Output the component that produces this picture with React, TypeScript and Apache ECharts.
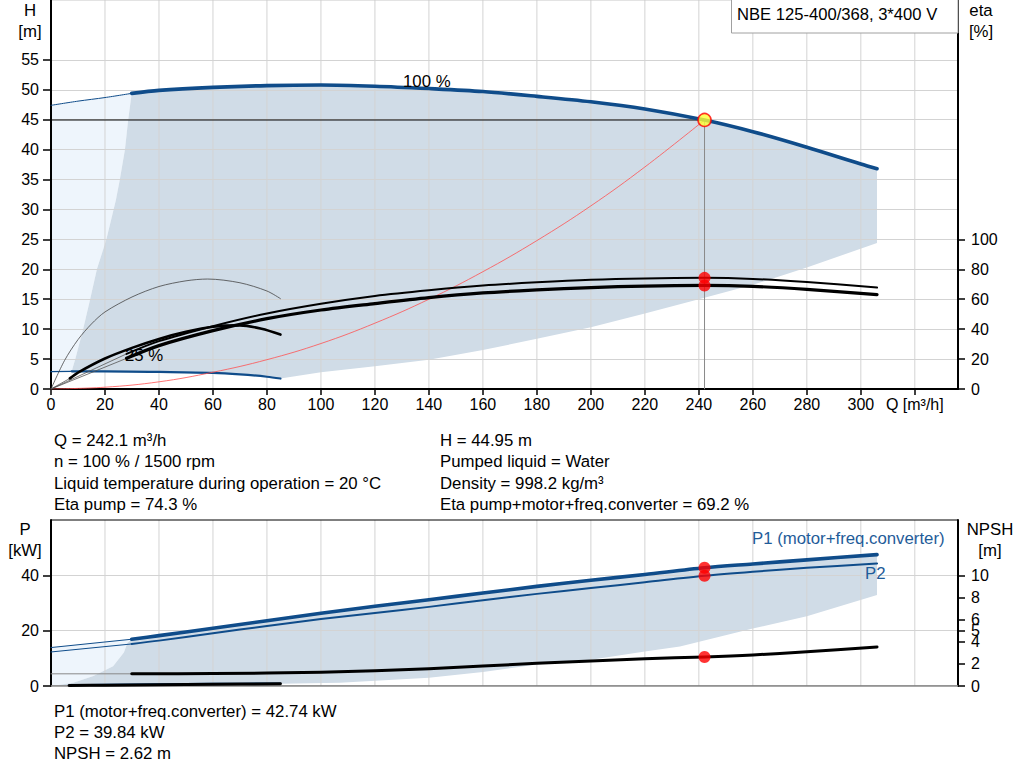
import React, { useEffect, useRef } from "react";
import * as echarts from "echarts";

// ---------- axis / tick data ----------
const Q_MAX = 336;
const Q_TICKS = [0, 20, 40, 60, 80, 100, 120, 140, 160, 180, 200, 220, 240, 260, 280, 300, 320];
const Q_UNIT_AT = 320;
const H_MAX = 65;
const H_TICKS = [0, 5, 10, 15, 20, 25, 30, 35, 40, 45, 50, 55];
const ETA_MAX = 260;
const ETA_TICKS = [0, 20, 40, 60, 80, 100];
const P_MAX = 60;
const P_TICKS = [0, 20, 40];
const NPSH_MAX = 15;
const NPSH_TICKS = [0, 2, 4, 5, 6, 8, 10];

// ---------- operating point ----------
const OP_Q = 242.1;
const OP_H = 44.95;
const OP_ETA_PUMP = 74.3;
const OP_ETA_TOTAL = 69.2;
const OP_P1 = 42.74;
const OP_P2 = 39.84;
const OP_NPSH = 2.62;

// thin -> thick switch points
const THICK_START = 29.9;
const THICK_START_25 = 7.7;

// ---------- H curves (m) ----------
const Q_H100 = [0, 10, 20, 29.9, 40, 60, 80, 100, 120, 140, 160, 180, 200, 220, 242.1, 260, 280, 300, 306];
const H100 = [47.4, 48.1, 48.7, 49.4, 49.9, 50.4, 50.7, 50.8, 50.6, 50.2, 49.7, 48.9, 48.0, 46.8, 44.95, 43.0, 40.4, 37.6, 36.8];
const Q_H25 = [0, 7.7, 20, 40, 60, 70, 80, 85];
const H25 = [2.9, 2.95, 2.95, 2.85, 2.7, 2.45, 2.05, 1.75];

// system curve
const Q_SYS = [0, 20, 40, 60, 80, 100, 120, 140, 160, 180, 200, 220, 242.1];
const H_SYS = [0, 0.3, 1.2, 2.8, 4.9, 7.6, 11.0, 15.0, 19.6, 24.8, 30.6, 37.1, 44.95];

// shaded operating area (H)
const AREA_TOP_LEFT_Q = [7.7, 9, 11.9, 14.5, 17, 20.5, 24, 25.5, 27.4, 28.6, 29.9];
const AREA_TOP_LEFT_H = [3.0, 5, 10, 15, 20, 25, 31.5, 35, 40, 45, 49.4];
const AREA_TOP_LOW_Q = [306, 280, 260, 240, 220, 200, 180, 160, 140, 120, 100, 85];
const AREA_TOP_LOW_H = [24.4, 20.3, 17.4, 15.0, 12.6, 10.3, 8.4, 6.5, 4.9, 3.8, 2.8, 1.75];

// ---------- efficiency curves (%) ----------
const Q_ETA100 = [0, 28, 40, 60, 80, 100, 120, 140, 160, 180, 200, 220, 242.1, 260, 280, 306];
const ETA_PUMP100 = [0, 23.5, 32, 42, 50.5, 57, 62.2, 66, 69.1, 71.3, 73.0, 73.9, 74.3, 73.6, 71.5, 67.8];
const ETA_TOTAL100 = [0, 20.5, 29, 39, 47, 52.8, 57.1, 61.1, 64.2, 66.2, 67.8, 68.8, 69.2, 68.6, 66.6, 63.1];
const ETA_THICK_START = 28;
const Q_ETA_PUMP25 = [0, 5, 10, 15, 20, 30, 40, 50, 58, 70, 80, 85];
const ETA_PUMP25 = [0, 19, 33, 43.5, 51.5, 61.5, 68.5, 72.3, 73.5, 71, 65.5, 60.4];
const Q_ETA_TOTAL25 = [0, 7, 10, 20, 30, 40, 50, 60, 70, 78, 85];
const ETA_TOTAL25 = [0, 7.1, 11, 20.4, 27.5, 33.5, 38.2, 41.6, 42.5, 40.3, 36.4];
const ETA25_THICK_START = 7;

// ---------- power (kW) ----------
const Q_P = [0, 29.9, 40, 60, 80, 100, 120, 140, 160, 180, 200, 220, 242.1, 260, 280, 306];
const P1 = [13.9, 16.9, 18.2, 20.9, 23.6, 26.3, 28.8, 31.2, 33.6, 36.0, 38.2, 40.3, 42.74, 44.1, 45.6, 47.5];
const P2 = [12.3, 15.2, 16.4, 19.1, 21.7, 24.2, 26.4, 28.6, 31.0, 33.3, 35.4, 37.5, 39.84, 41.3, 42.7, 44.3];
const Q_P25 = [6.7, 20, 40, 60, 85];
const P1_25 = [0.4, 0.55, 0.75, 0.9, 1.0];
const P2_25 = [0.2, 0.3, 0.45, 0.6, 0.85];
const AREA_BOT_LEFT_Q = [1.5, 8.3, 15.7, 23, 27, 28.3, 29.9];
const AREA_BOT_LEFT_P = [0.2, 1.2, 3.6, 7.1, 12.1, 15.5, 16.9];
const AREA_BOT_LOW_Q = [306, 280, 260, 233, 220, 200, 180, 160, 140, 107, 85];
const AREA_BOT_LOW_P = [32.9, 25.2, 20.8, 14.3, 12.5, 9.5, 7.8, 5.1, 3.0, 1.2, 0.85];

// ---------- NPSH (m) ----------
const Q_NPSH = [0, 29.9, 60, 100, 140, 180, 220, 242.1, 260, 280, 306];
const NPSH = [1.1, 1.1, 1.12, 1.25, 1.56, 2.05, 2.47, 2.62, 2.8, 3.1, 3.53];

// ---------- texts ----------
const TITLE = "NBE 125-400/368, 3*400 V";
const INFO_LEFT = ["Q = 242.1 m³/h", "n = 100 % / 1500 rpm", "Liquid temperature during operation = 20 °C", "Eta pump = 74.3 %"];
const INFO_RIGHT = ["H = 44.95 m", "Pumped liquid = Water", "Density = 998.2 kg/m³", "Eta pump+motor+freq.converter = 69.2 %"];
const INFO_BOTTOM = ["P1 (motor+freq.converter) = 42.74 kW", "P2 = 39.84 kW", "NPSH = 2.62 m"];

const FONT = "'Liberation Sans', Arial, sans-serif";
const BLUE = "#0f4c8a";
const TEXT_BLUE = "#1f5c99";
const GRID_COLOR = "#d3d3d3";
const AREA_DARK = "#d0dce7";
const AREA_LIGHT = "#eef5fc";

type Pt = [number, number];
const pairs = (xs: number[], ys: number[]): Pt[] => xs.map((x, i) => [x, ys[i]] as Pt);
const seg = (xs: number[], ys: number[], lo: number, hi: number): Pt[] =>
  pairs(xs, ys).filter((p) => p[0] >= lo && p[0] <= hi);

function line(data: Pt[], xi: number, yi: number, color: string, width: number, z = 3, smooth: number | boolean = 0.3) {
  return {
    type: "line",
    xAxisIndex: xi,
    yAxisIndex: yi,
    data,
    symbol: "none",
    smooth,
    silent: true,
    z,
    lineStyle: { color, width, cap: "round", join: "round" },
  };
}

function polygon(points: Pt[], xi: number, yi: number, color: string) {
  return {
    type: "custom",
    xAxisIndex: xi,
    yAxisIndex: yi,
    z: -2,
    silent: true,
    clip: true,
    data: points,
    encode: { x: 0, y: 1 },
    renderItem: (params: any, api: any) => {
      if (params.dataIndex !== 0) return null;
      const pts = points.map((p) => api.coord(p));
      return { type: "polygon", shape: { points: pts }, style: { fill: color } };
    },
  };
}

// vertical grid lines at the Q ticks, drawn through the axis scales
function vGrid(xi: number, yi: number, yMax: number) {
  const qs = Q_TICKS.filter((q) => q > 0);
  return {
    type: "custom",
    xAxisIndex: xi,
    yAxisIndex: yi,
    z: -1,
    silent: true,
    data: qs.map((q) => [q, 0]),
    encode: { x: 0, y: 1 },
    renderItem: (params: any, api: any) => {
      const q = qs[params.dataIndex];
      const a = api.coord([q, 0]);
      const b = api.coord([q, yMax]);
      return {
        type: "line",
        shape: { x1: a[0], y1: a[1], x2: b[0], y2: b[1] },
        style: { stroke: GRID_COLOR, lineWidth: 1 },
      };
    },
  };
}

function dots(data: Pt[], xi: number, yi: number) {
  return {
    type: "scatter",
    xAxisIndex: xi,
    yAxisIndex: yi,
    data,
    symbol: "circle",
    symbolSize: 12,
    silent: true,
    z: 8,
    itemStyle: { color: "#ff0000" },
  };
}

function txt(text: string, x: number, y: number, opts: any = {}) {
  return {
    type: "text",
    x,
    y,
    z: 100,
    silent: true,
    style: {
      text,
      fill: opts.fill || "#000",
      fontSize: opts.fontSize || 16.8,
      fontFamily: FONT,
      align: opts.align || "left",
      textAlign: opts.align || "left",
      verticalAlign: "middle",
      textVerticalAlign: "middle",
    },
  };
}

function buildOption() {
  // top shaded areas
  const h25 = pairs(Q_H25, H25);
  const topLeft = pairs(AREA_TOP_LEFT_Q, AREA_TOP_LEFT_H);
  const h100Thick = seg(Q_H100, H100, THICK_START, 1000);
  const h100Thin = seg(Q_H100, H100, 0, THICK_START);
  const topDark: Pt[] = [
    ...topLeft,
    ...h100Thick.slice(1),
    ...pairs(AREA_TOP_LOW_Q, AREA_TOP_LOW_H),
    ...h25.filter((p) => p[0] >= THICK_START_25 && p[0] < 85).reverse(),
  ];
  const topLight: Pt[] = [
    [0, h25[0][1]],
    ...h100Thin,
    ...topLeft.slice().reverse().slice(1),
    ...h25.filter((p) => p[0] < THICK_START_25).reverse(),
  ];

  // bottom shaded areas
  const botLeft = pairs(AREA_BOT_LEFT_Q, AREA_BOT_LEFT_P);
  const p1Thick = seg(Q_P, P1, THICK_START, 1000);
  const p1Thin = seg(Q_P, P1, 0, THICK_START);
  const botDark: Pt[] = [
    ...botLeft,
    ...p1Thick.slice(1),
    ...pairs(AREA_BOT_LOW_Q, AREA_BOT_LOW_P),
    ...pairs(Q_P25, P2_25).reverse().slice(1),
  ];
  const botLight: Pt[] = [[0, 0], ...p1Thin, ...botLeft.slice().reverse().slice(1)];

  const series: any[] = [
    polygon(topLight, 0, 0, AREA_LIGHT),
    polygon(topDark, 0, 0, AREA_DARK),
    polygon(botLight, 1, 2, AREA_LIGHT),
    polygon(botDark, 1, 2, AREA_DARK),
    vGrid(0, 0, H_MAX),
    vGrid(1, 2, P_MAX),

    // H curves
    line(h100Thin, 0, 0, BLUE, 1),
    line(h100Thick, 0, 0, BLUE, 3.6, 4),
    line(seg(Q_H25, H25, 0, THICK_START_25), 0, 0, BLUE, 1.2),
    line(seg(Q_H25, H25, THICK_START_25, 1000), 0, 0, BLUE, 2.2),

    // system curve
    line(pairs(Q_SYS, H_SYS), 0, 0, "#ff5050", 0.8, 3, 0.4),

    // operating point guides
    line([[0, OP_H], [OP_Q, OP_H]], 0, 0, "#000", 1, 3, false),
    line([[OP_Q, 0], [OP_Q, OP_H]], 0, 0, "#8a8a8a", 1, 3, false),

    // efficiency curves
    line(seg(Q_ETA100, ETA_PUMP100, 0, ETA_THICK_START), 0, 1, "#555", 0.8, 3, false),
    line(seg(Q_ETA100, ETA_TOTAL100, 0, ETA_THICK_START), 0, 1, "#555", 0.8, 3, false),
    line(seg(Q_ETA100, ETA_PUMP100, ETA_THICK_START, 1000), 0, 1, "#000", 2),
    line(seg(Q_ETA100, ETA_TOTAL100, ETA_THICK_START, 1000), 0, 1, "#000", 3.2),
    line(pairs(Q_ETA_PUMP25, ETA_PUMP25), 0, 1, "#444", 0.8, 3, 0.3),
    line(seg(Q_ETA_TOTAL25, ETA_TOTAL25, 0, ETA25_THICK_START), 0, 1, "#555", 0.8, 3, false),
    line(seg(Q_ETA_TOTAL25, ETA_TOTAL25, ETA25_THICK_START, 1000), 0, 1, "#000", 2.6),

    dots([[OP_Q, OP_ETA_PUMP], [OP_Q, OP_ETA_TOTAL]], 0, 1),
    {
      type: "scatter",
      xAxisIndex: 0,
      yAxisIndex: 0,
      data: [[OP_Q, OP_H]],
      symbol: "circle",
      symbolSize: 13,
      silent: true,
      z: 9,
      itemStyle: { color: "#ffff33", borderColor: "#ff0000", borderWidth: 1.6 },
    },

    // power curves
    line(p1Thin, 1, 2, BLUE, 1, 3, false),
    line(seg(Q_P, P2, 0, THICK_START), 1, 2, BLUE, 1, 3, false),
    line(p1Thick, 1, 2, BLUE, 3.6, 4),
    line(seg(Q_P, P2, THICK_START, 1000), 1, 2, BLUE, 2),
    line(pairs(Q_P25, P1_25), 1, 2, BLUE, 1.5),
    line(pairs(Q_P25, P2_25), 1, 2, "#000", 3),

    // NPSH
    line(seg(Q_NPSH, NPSH, 0, THICK_START), 1, 3, "#888", 1, 3, false),
    line(seg(Q_NPSH, NPSH, THICK_START, 1000), 1, 3, "#000", 3),

    dots([[OP_Q, OP_P1], [OP_Q, OP_P2]], 1, 2),
    dots([[OP_Q, OP_NPSH]], 1, 3),
  ];

  const axisLabel = { color: "#000", fontSize: 16, fontFamily: FONT };
  const blackLine = { show: true, onZero: false, lineStyle: { color: "#000", width: 2 } };

  const graphic: any[] = [
    {
      type: "rect",
      z: 99,
      silent: true,
      shape: { x: 731.5, y: -1, width: 226.5, height: 34 },
      style: { fill: "#fff", stroke: "#a0a0a0", lineWidth: 1 },
    },
    txt(TITLE, 737, 14, { fontSize: 16.6 }),
    txt("H", 30, 10, { align: "center" }),
    txt("[m]", 30, 31, { align: "center" }),
    txt("eta", 981, 10, { align: "center" }),
    txt("[%]", 981, 31, { align: "center" }),
    txt("P", 25, 529, { align: "center" }),
    txt("[kW]", 25, 550, { align: "center" }),
    txt("NPSH", 990, 529, { align: "center" }),
    txt("[m]", 990, 550, { align: "center" }),
    txt("100 %", 403, 81),
    txt("25 %", 125, 355),
    txt("P1 (motor+freq.converter)", 752, 538, { fill: TEXT_BLUE }),
    txt("P2", 865, 573, { fill: TEXT_BLUE }),
    ...INFO_LEFT.map((t, i) => txt(t, 54, 440.5 + i * 21.4)),
    ...INFO_RIGHT.map((t, i) => txt(t, 440, 440.5 + i * 21.4)),
    ...INFO_BOTTOM.map((t, i) => txt(t, 54, 711 + i * 21.2)),
  ];

  return {
    animation: false,
    backgroundColor: "#fff",
    textStyle: { fontFamily: FONT },
    grid: [
      { left: 51, right: 66, top: 0, height: 389, show: true, borderColor: "#c8c8c8", borderWidth: 1 },
      { left: 51, right: 66, top: 520, height: 166, show: true, borderColor: "#000", borderWidth: 1 },
    ],
    xAxis: [
      {
        type: "value",
        gridIndex: 0,
        min: 0,
        max: Q_MAX,
        interval: 20,
        axisLine: blackLine,
        axisTick: { show: true, length: 6, customValues: Q_TICKS, lineStyle: { color: "#000", width: 1.5 } },
        axisLabel: {
          ...axisLabel,
          margin: 7,
          customValues: Q_TICKS,
          formatter: (v: number) => (v === Q_UNIT_AT ? "Q [m³/h]" : String(v)),
        },
        splitLine: { show: false },
      },
      {
        type: "value",
        gridIndex: 1,
        min: 0,
        max: Q_MAX,
        interval: 20,
        axisLine: { show: true, onZero: false, lineStyle: { color: "#999", width: 1.5 } },
        axisTick: { show: false },
        axisLabel: { show: false },
        splitLine: { show: false },
      },
    ],
    yAxis: [
      {
        type: "value",
        gridIndex: 0,
        position: "left",
        min: 0,
        max: H_MAX,
        interval: 5,
        axisLine: blackLine,
        axisTick: { show: true, length: 8, customValues: H_TICKS, lineStyle: { color: "#000", width: 1.5 } },
        axisLabel: { ...axisLabel, margin: 12, customValues: H_TICKS },
        splitLine: { show: true, lineStyle: { color: GRID_COLOR, width: 1 } },
      },
      {
        type: "value",
        gridIndex: 0,
        position: "right",
        min: 0,
        max: ETA_MAX,
        axisLine: blackLine,
        axisTick: { show: true, length: 7, customValues: ETA_TICKS, lineStyle: { color: "#000", width: 1.5 } },
        axisLabel: { ...axisLabel, margin: 13, customValues: ETA_TICKS },
        splitLine: { show: false },
      },
      {
        type: "value",
        gridIndex: 1,
        position: "left",
        min: 0,
        max: P_MAX,
        interval: 20,
        axisLine: blackLine,
        axisTick: { show: true, length: 8, customValues: P_TICKS, lineStyle: { color: "#000", width: 1.5 } },
        axisLabel: { ...axisLabel, margin: 12, customValues: P_TICKS },
        splitLine: { show: true, lineStyle: { color: GRID_COLOR, width: 1 } },
      },
      {
        type: "value",
        gridIndex: 1,
        position: "right",
        min: 0,
        max: NPSH_MAX,
        axisLine: blackLine,
        axisTick: { show: true, length: 7, customValues: NPSH_TICKS, lineStyle: { color: "#000", width: 1.5 } },
        axisLabel: { ...axisLabel, margin: 13, customValues: NPSH_TICKS },
        splitLine: { show: false },
      },
    ],
    series,
    graphic,
  };
}

export default function App() {
  const ref = useRef<HTMLDivElement>(null);
  useEffect(() => {
    if (!ref.current) return;
    const chart = echarts.init(ref.current, undefined, { renderer: "svg" });
    chart.setOption(buildOption() as any);
    return () => chart.dispose();
  }, []);
  return (
    <div
      ref={ref}
      style={{ position: "absolute", left: 0, top: 0, width: 1024, height: 781, background: "#fff" }}
    />
  );
}
